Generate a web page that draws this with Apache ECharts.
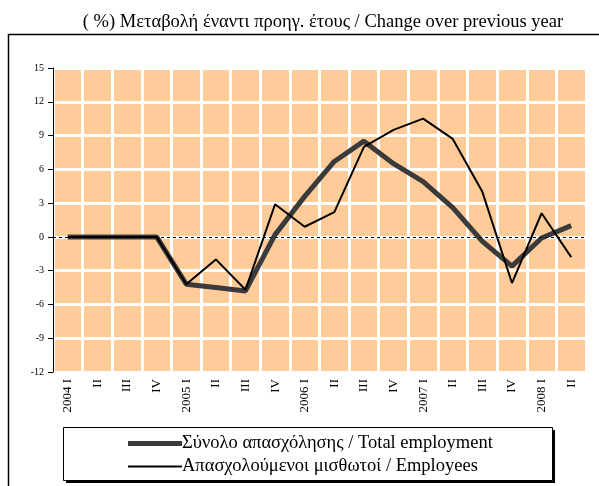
<!DOCTYPE html>
<html>
<head>
<meta charset="utf-8">
<script src="https://cdn.jsdelivr.net/npm/echarts@6/dist/echarts.min.js"></script>
<style>
  html, body { margin: 0; padding: 0; background: #fff; }
  #chart { width: 599px; height: 486px; }
</style>
</head>
<body>
<div id="chart"></div>
<script>
// quarters 2004 I .. 2008 II
const quarters = ['2004 I', 'II', 'III', 'IV', '2005 I', 'II', 'III', 'IV', '2006 I', 'II', 'III', 'IV',
  '2007 I', 'II', 'III', 'IV', '2008 I', 'II'];
const totalEmployment = [0, 0, 0, 0, -4.2, -4.5, -4.8, 0.2, 3.6, 6.7, 8.5, 6.5, 4.9, 2.6, -0.4, -2.6, -0.1, 1.0];
const employees = [0, 0, 0, 0, -4.2, -2.0, -4.7, 2.9, 0.9, 2.2, 8.0, 9.5, 10.5, 8.7, 4.0, -4.1, 2.1, -1.8];
const seriesNames = ['Σύνολο απασχόλησης / Total employment', 'Απασχολούμενοι μισθωτοί / Employees'];
const yTicks = { min: -12, max: 15, step: 3 };

const serif = '"Liberation Serif", "DejaVu Serif", serif';
const chart = echarts.init(document.getElementById('chart'));

const option = {
  animation: false,
  title: {
    text: '( %) Μεταβολή έναντι προηγ. έτους / Change over previous year',
    left: 318,
    textAlign: 'center',
    top: 8,
    textStyle: { fontFamily: serif, fontSize: 18.5, fontWeight: 'normal', color: '#000' }
  },
  graphic: [
    // outer frame
    { type: 'rect', shape: { x: 8.5, y: 34.5, width: 620, height: 480 },
      style: { fill: 'none', stroke: '#000', lineWidth: 1.5 }, z: 0 },
    // legend box shadow + box
    { type: 'rect', shape: { x: 66, y: 430, width: 489, height: 53 },
      style: { fill: '#000' }, z: 1 },
    { type: 'rect', shape: { x: 63.5, y: 427.5, width: 489, height: 53 },
      style: { fill: '#fff', stroke: '#000', lineWidth: 1 }, z: 2 }
  ],
  legend: {
    orient: 'vertical',
    left: 123,
    top: 429,
    itemGap: 4,
    itemWidth: 54,
    itemHeight: 21,
    z: 10,
    textStyle: { fontFamily: serif, fontSize: 18.5, color: '#000', padding: [0, 0, 0, -5] },
    data: [
      { name: seriesNames[0], icon: 'path://M0 0H54V5H0Z', itemStyle: { color: '#3a3a3a' } },
      { name: seriesNames[1], icon: 'path://M0 0H54V2H0Z', itemStyle: { color: '#000' } }
    ]
  },
  grid: {
    left: 53, right: 13, top: 68, bottom: 114,
    show: true, backgroundColor: '#FFCC99', borderWidth: 0
  },
  xAxis: {
    type: 'category',
    data: quarters,
    boundaryGap: true,
    axisLine: { show: false },
    axisTick: { show: false },
    axisLabel: { rotate: 90, margin: 7, fontFamily: serif, fontSize: 13, color: '#000', interval: 0 },
    splitLine: { show: true, interval: 0, lineStyle: { color: '#fff', width: 3 } }
  },
  yAxis: {
    type: 'value',
    min: yTicks.min, max: yTicks.max, interval: yTicks.step,
    axisLine: { show: true, lineStyle: { color: '#000', width: 1 } },
    axisTick: { show: true, length: 5, lineStyle: { color: '#000' } },
    axisLabel: { margin: 9, fontFamily: serif, fontSize: 10, color: '#000' },
    splitLine: { show: true, lineStyle: { color: '#fff', width: 3 } }
  },
  series: [
    {
      name: seriesNames[0],
      type: 'line',
      data: totalEmployment,
      symbol: 'none',
      z: 3,
      lineStyle: { color: '#3a3a3a', width: 5 },
      itemStyle: { color: '#3a3a3a' },
      markLine: {
        silent: true,
        symbol: 'none',
        label: { show: false },
        lineStyle: { color: '#000', type: [3, 3], width: 1 },
        data: [{ yAxis: 0 }]
      }
    },
    {
      name: seriesNames[1],
      type: 'line',
      data: employees,
      symbol: 'none',
      z: 4,
      lineStyle: { color: '#000', width: 2 },
      itemStyle: { color: '#000' }
    }
  ]
};

chart.setOption(option);
</script>
</body>
</html>
